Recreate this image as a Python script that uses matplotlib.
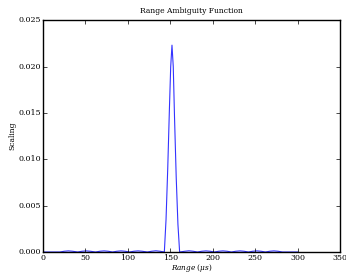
import matplotlib
matplotlib.use("Agg")
import matplotlib.pyplot as plt

# values
range_us = [0, 20, 25, 30, 35, 41, 46, 51, 56, 62, 67, 72, 77, 82, 87, 92, 97,
            102, 107, 112, 117, 123, 128, 133, 138, 143, 145, 147, 149, 150.5,
            152, 153.5, 155, 157, 159, 161, 167, 172, 177, 182, 187, 192, 197,
            202, 207, 212, 217, 222, 227, 232, 237, 242, 247, 252, 257, 262,
            267, 272, 277, 282, 300]
scaling = [0, 0, 0.00008, 0.00012, 0.00008, 0, 0.00008, 0.00012, 0.00008, 0,
           0.00008, 0.00012, 0.00008, 0, 0.00008, 0.00012, 0.00008,
           0, 0.00008, 0.00012, 0.00008, 0, 0.00008, 0.00013, 0.00008, 0,
           0.0035, 0.009, 0.0155, 0.0200,
           0.0223, 0.0200, 0.0145, 0.008, 0.003, 0, 0.00008, 0.00013, 0.00008,
           0, 0.00008, 0.00012, 0.00008,
           0, 0.00008, 0.00012, 0.00008, 0, 0.00008, 0.00012, 0.00008, 0,
           0.00008, 0.00012, 0.00008, 0,
           0.00008, 0.00012, 0.00008, 0, 0]

plt.style.use("classic")
plt.rcParams["font.family"] = "DejaVu Serif"
plt.rcParams["mathtext.fontset"] = "dejavuserif"

fig = plt.figure(figsize=(3.46, 2.72), dpi=100)
ax = fig.add_axes([0.124, 0.0735, 0.859, 0.8525])
ax.plot(range_us, scaling, color="#3333ff", linewidth=0.8)

ax.set_xlim(0, 350)
ax.set_ylim(0, 0.025)
ax.set_xticks(range(0, 351, 50))
ax.set_yticks([0, 0.005, 0.010, 0.015, 0.020, 0.025])
ax.set_yticklabels(["0.000", "0.005", "0.010", "0.015", "0.020", "0.025"])
ax.tick_params(labelsize=5.7, length=3, pad=1.5)
ax.set_title("Range Ambiguity Function", fontsize=5.5)
ax.set_xlabel(r"$Range\ (\mu s)$", fontsize=5.2, labelpad=0)
ax.set_ylabel("Scaling", fontsize=5.5, labelpad=1)

fig.savefig("out.png", dpi=100)
